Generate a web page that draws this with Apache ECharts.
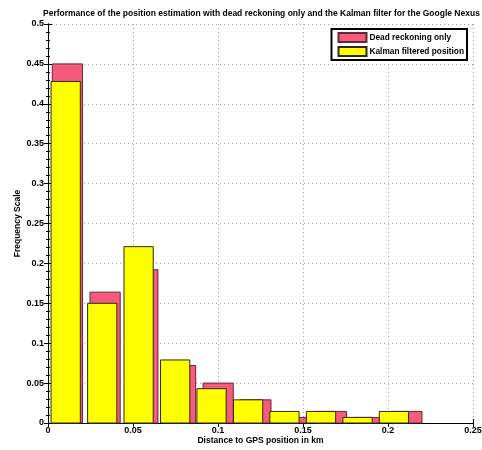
<!DOCTYPE html>
<html>
<head>
<meta charset="utf-8">
<script src="https://cdn.jsdelivr.net/npm/echarts@6/dist/echarts.min.js"></script>
<style>
  html, body { margin: 0; padding: 0; background: #ffffff; }
  #chart { width: 482px; height: 450px; }
</style>
</head>
<body>
<div id="chart"></div>
<script>
// Histogram bin centres (km) and relative frequencies for each estimator
const deadCenters   = [0.0114, 0.0336, 0.0558, 0.0780, 0.1001, 0.1223, 0.1445, 0.1667, 0.1889, 0.2111];
const deadFreq      = [0.450, 0.164, 0.192, 0.072, 0.050, 0.029, 0.007, 0.0145, 0.007, 0.0145];
const kalmanCenters = [0.0104, 0.0319, 0.0533, 0.0748, 0.0962, 0.1177, 0.1391, 0.1606, 0.1821, 0.2035];
const kalmanFreq    = [0.428, 0.150, 0.221, 0.079, 0.043, 0.029, 0.0145, 0.0145, 0.007, 0.0145];

const xTicks = [0, 0.05, 0.1, 0.15, 0.2, 0.25];
const yTicks = [0, 0.05, 0.1, 0.15, 0.2, 0.25, 0.3, 0.35, 0.4, 0.45, 0.5];

const seriesNames = ['Dead reckoning only', 'Kalman filtered position'];

const FONT = 'Liberation Sans, Arial, Helvetica, sans-serif';
const BAR_RATIO = 0.8;

function pairs(xs, ys) { return xs.map((x, i) => [x, ys[i]]); }

function histRenderer(centers, fill, stroke) {
  const binWidth = centers[1] - centers[0];
  const half = binWidth * BAR_RATIO / 2;
  return function (params, api) {
    const x = api.value(0), y = api.value(1);
    const p0 = api.coord([x - half, 0]);
    const p1 = api.coord([x + half, y]);
    return {
      type: 'rect',
      shape: { x: p0[0], y: p1[1], width: p1[0] - p0[0], height: p0[1] - p1[1] },
      style: { fill: fill, stroke: stroke, lineWidth: 1 }
    };
  };
}

const RED = '#f65a7c', RED_EDGE = '#5e2a38';
const YEL = '#ffff00', YEL_EDGE = '#2a2a10';

const tickLabel = { fontFamily: FONT, fontWeight: 'bold', fontSize: 9, color: '#000' };
const nameStyle = { fontFamily: FONT, fontWeight: 'bold', fontSize: 8.5, color: '#000' };

const chart = echarts.init(document.getElementById('chart'), null, { renderer: 'canvas' });
chart.setOption({
  backgroundColor: '#ffffff',
  animation: false,
  title: {
    text: 'Performance of the position estimation with dead reckoning only and the Kalman filter for the Google Nexus',
    left: 43, top: 9, padding: 0,
    textStyle: { fontFamily: FONT, fontWeight: 'bold', fontSize: 8.5, color: '#000' }
  },
  legend: {
    data: seriesNames,
    orient: 'vertical',
    right: 15, top: 29,
    itemWidth: 28, itemHeight: 9, itemGap: 3,
    padding: [3, 3, 3, 6],
    borderColor: '#000', borderWidth: 2,
    backgroundColor: '#fff',
    icon: 'rect',
    textStyle: { fontFamily: FONT, fontWeight: 'bold', fontSize: 8.3, color: '#000', padding: [0, 0, 0, -2] }
  },
  grid: { left: 48, right: 9, top: 24, bottom: 27, containLabel: false, outerBoundsMode: 'none' },
  xAxis: [{
    type: 'value', min: xTicks[0], max: xTicks[xTicks.length - 1], interval: 0.05,
    name: 'Distance to GPS position in km', nameLocation: 'middle', nameGap: 13, nameMoveOverlap: false,
    nameTextStyle: nameStyle,
    axisLine: { show: true, lineStyle: { color: '#000', width: 1 } },
    axisTick: { show: true, inside: true, length: 4, lineStyle: { color: '#000' } },
    axisLabel: { ...tickLabel, margin: 3, formatter: v => String(+v.toFixed(2)) },
    splitLine: { show: true, lineStyle: { color: '#a0a0a0', type: [1, 3], width: 1 } }
  }, {
    type: 'value', position: 'top', min: xTicks[0], max: xTicks[xTicks.length - 1], interval: 0.05,
    axisLine: { show: true, lineStyle: { color: '#000', width: 1 } },
    axisTick: { show: true, inside: true, length: 4, lineStyle: { color: '#000' } },
    axisLabel: { show: false }, splitLine: { show: false }
  }],
  yAxis: [{
    type: 'value', min: yTicks[0], max: yTicks[yTicks.length - 1], interval: 0.05,
    name: 'Frequency Scale', nameLocation: 'middle', nameGap: 26, nameMoveOverlap: false,
    nameTextStyle: nameStyle,
    axisLine: { show: true, lineStyle: { color: '#000', width: 1 } },
    axisTick: { show: true, inside: true, length: 4, lineStyle: { color: '#000' } },
    minorTick: { show: true, splitNumber: 5, length: 2, lineStyle: { color: '#000' } },
    axisLabel: { ...tickLabel, margin: 4, formatter: v => String(+v.toFixed(2)) },
    splitLine: { show: true, lineStyle: { color: '#a0a0a0', type: [1, 3], width: 1 } }
  }, {
    type: 'value', position: 'right', min: yTicks[0], max: yTicks[yTicks.length - 1], interval: 0.05,
    axisLine: { show: true, lineStyle: { color: '#000', width: 1 } },
    axisTick: { show: true, inside: true, length: 4, lineStyle: { color: '#000' } },
    minorTick: { show: true, splitNumber: 5, length: 2, lineStyle: { color: '#000' } },
    axisLabel: { show: false }, splitLine: { show: false }
  }],
  series: [{
    name: seriesNames[0], type: 'custom', xAxisIndex: 0, yAxisIndex: 0,
    itemStyle: { color: RED, borderColor: RED_EDGE, borderWidth: 1 },
    renderItem: histRenderer(deadCenters, RED, RED_EDGE),
    data: pairs(deadCenters, deadFreq), z: 2
  }, {
    name: seriesNames[1], type: 'custom', xAxisIndex: 0, yAxisIndex: 0,
    itemStyle: { color: YEL, borderColor: YEL_EDGE, borderWidth: 1 },
    renderItem: histRenderer(kalmanCenters, YEL, YEL_EDGE),
    data: pairs(kalmanCenters, kalmanFreq), z: 3
  }]
});
</script>
</body>
</html>
